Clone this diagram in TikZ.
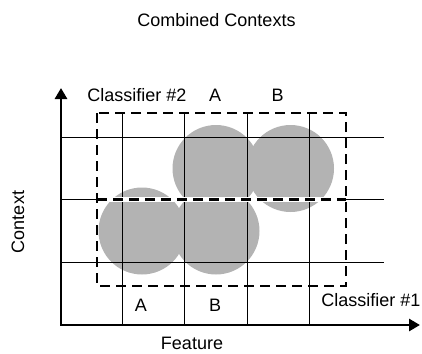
\documentclass[tikz,border=0pt]{standalone}
\usepackage{fontspec}
\setmainfont{Liberation Sans}
\usetikzlibrary{arrows.meta}
\definecolor{circgray}{RGB}{179,179,179}
\begin{document}
\begin{tikzpicture}[x=1pt,y=-1pt,
  lbl/.style={font=\fontsize{18}{21}\selectfont, inner sep=0pt},
  gridline/.style={line width=1.3pt},
  axisline/.style={line width=2.8pt, line join=miter,
    {Triangle[width=12pt,length=11pt]}-{Triangle[width=12pt,length=11pt]}},
  blob/.style={circle, fill=circgray, draw=none, minimum size=87pt, inner sep=0pt},
  region/.style={draw=black, line width=2.5pt, dash pattern=on 10pt off 6pt},
  halo/.style={draw=white, line width=5pt}]
\useasboundingbox (0,0) rectangle (422,353);
% circles
\node[blob] (c1) at (142,231) {};
\node[blob] (c2) at (216,231) {};
\node[blob] (c3) at (216,168.5) {};
\node[blob] (c4) at (290.5,168.5) {};
% grid
\foreach \x in {122.3,184.3,247.3,309.3}
  \draw[gridline] (\x,113) -- (\x,325);
\foreach \y in {137.7,199.3,262.3}
  \draw[gridline] (61,\y) -- (384,\y);
% axes
\coordinate (O) at (61,325);
\coordinate (ytip) at (61,88);
\coordinate (xtip) at (420,325);
\draw[axisline] (ytip) -- (O) -- (xtip);
% classifier regions
\coordinate (ml) at (97,199.3);
\coordinate (mr) at (346,199.3);
\draw[halo] (ml) -- (mr);
\draw[region] (ml) -- (mr);
\draw[region] (97,113) rectangle (346,286);
% labels
\node[lbl] (title) at (216.5,20) {Combined Contexts};
\node[lbl] (cl2) at (137,95) {Classifier \#2};
\node[lbl] (tA) at (215,95) {A};
\node[lbl] (tB) at (277.5,95) {B};
\node[lbl] (bA) at (141,305) {A};
\node[lbl] (bB) at (215,305) {B};
\node[lbl] (cl1) at (371,300) {Classifier \#1};
\node[lbl] (feat) at (192,343) {Feature};
\node[lbl, rotate=90] (ctx) at (18,222) {Context};
\end{tikzpicture}
\end{document}
